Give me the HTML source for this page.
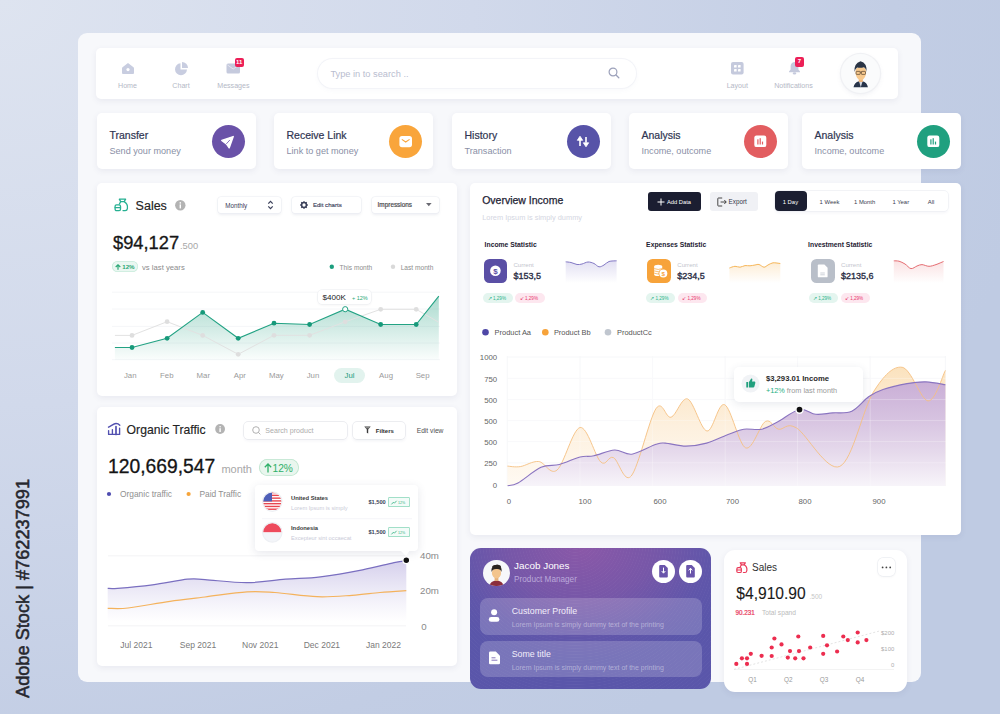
<!DOCTYPE html>
<html><head><meta charset="utf-8"><style>
*{margin:0;padding:0;box-sizing:border-box}
html,body{width:1000px;height:714px;overflow:hidden}
body{font-family:"Liberation Sans",sans-serif;position:relative;background:radial-gradient(ellipse 1050px 900px at 0 0,#dee4f0 0%,#d1d9eb 45%,#c2cde4 85%,#bfcbe3 100%);color:#1f2233}
.a{position:absolute}
.t{position:absolute;white-space:nowrap}
svg.tx{left:0;top:0;overflow:visible;font-family:"Liberation Sans",sans-serif;white-space:pre}
svg.a{overflow:visible}
.card{position:absolute;background:#fff;border-radius:5px;box-shadow:0 2px 6px rgba(60,70,110,.08)}
.badge{position:absolute;background:#ec1f57;color:#fff;border-radius:2px;font-size:6px;font-weight:700;text-align:center;line-height:9px}
.med{-webkit-text-stroke:0.25px currentColor}
</style></head><body>
<div class="a" style="left:11.5px;top:698px;transform-origin:0 0;transform:rotate(-90deg) scaleX(0.957);font-size:19px;line-height:22px;color:#26272e;white-space:nowrap;-webkit-text-stroke:0.55px #26272e">Adobe Stock | #762237991</div>
<div class="a" style="left:78.3px;top:33px;width:842.7px;height:649px;background:#f7f8fb;border-radius:9px"></div>
<div class="card" style="left:96px;top:48px;width:802px;height:51px"></div>
<svg class="a tx" width="1" height="1"><text x="127.50" y="87.90" font-size="7.1" fill="#b4b8c6" text-anchor="middle">Home</text></svg>
<svg class="a tx" width="1" height="1"><text x="181.00" y="87.90" font-size="7.1" fill="#b4b8c6" text-anchor="middle">Chart</text></svg>
<svg class="a tx" width="1" height="1"><text x="233.40" y="87.90" font-size="7.1" fill="#b4b8c6" text-anchor="middle">Messages</text></svg>
<svg class="a tx" width="1" height="1"><text x="737.30" y="87.90" font-size="7.1" fill="#b4b8c6" text-anchor="middle">Layout</text></svg>
<svg class="a tx" width="1" height="1"><text x="793.50" y="87.90" font-size="7.1" fill="#b4b8c6" text-anchor="middle">Notifications</text></svg>
<svg class="a" style="left:121px;top:62px" width="14" height="13" viewBox="0 0 14 13"><path d="M1.5 5.2 L7 1 L12.5 5.2 Q13 5.6 13 6.3 V11 Q13 12 12 12 H2 Q1 12 1 11 V6.3 Q1 5.6 1.5 5.2Z" fill="#c8cde0"/><circle cx="7" cy="7.6" r="1.6" fill="#fff"/></svg>
<svg class="a" style="left:174px;top:61px" width="15" height="15" viewBox="0 0 15 15"><path d="M6.5 2.2 A6 6 0 1 0 13 8.5 H6.5Z" fill="#c8cde0"/><path d="M8 1 A6 6 0 0 1 14 7 H8Z" fill="#c8cde0"/></svg>
<svg class="a" style="left:225.5px;top:63px" width="15" height="11" viewBox="0 0 15 11"><rect x="0.5" y="0.5" width="13.5" height="10" rx="1.5" fill="#c5cadd"/><path d="M1.5 2 L7.2 6 L13 2" stroke="#e6e8f1" stroke-width="0.9" fill="none"/></svg>
<div class="badge" style="left:234.5px;top:58px;width:9.5px;height:9px">11</div>
<svg class="a" style="left:731px;top:62px" width="13" height="13" viewBox="0 0 13 13"><rect x="0" y="0" width="12.6" height="12.6" rx="2" fill="#c5cadd"/><rect x="3" y="3" width="2.6" height="2.6" rx=".4" fill="#fff"/><rect x="7" y="3" width="2.6" height="2.6" rx=".4" fill="#fff"/><rect x="3" y="7" width="2.6" height="2.6" rx=".4" fill="#fff"/><rect x="7" y="7" width="2.6" height="2.6" rx=".4" fill="#fff"/></svg>
<svg class="a" style="left:787.5px;top:61px" width="13" height="14" viewBox="0 0 13 14"><path d="M6.5 1 C3.8 1 2.6 3.2 2.6 5.6 V8.6 L1 10.6 V11.3 H12 V10.6 L10.4 8.6 V5.6 C10.4 3.2 9.2 1 6.5 1Z" fill="#c5cadd"/><ellipse cx="6.5" cy="12.4" rx="1.8" ry="1.1" fill="#c5cadd"/></svg>
<div class="badge" style="left:795px;top:57px;width:9px;height:9.5px;line-height:9.5px">7</div>
<div class="a" style="left:318px;top:59px;width:318px;height:29px;border-radius:15px;background:#fff;box-shadow:0 0 0 1px #f3f4f8,0 2px 5px rgba(120,130,170,.05)"></div>
<svg class="a tx" width="1" height="1"><text x="330.40" y="76.70" font-size="9.25" fill="#b9bdcf">Type in to search ..</text></svg>
<svg class="a" style="left:608px;top:67px" width="12" height="12" viewBox="0 0 12 12"><circle cx="5" cy="5" r="3.9" stroke="#9ca1ba" stroke-width="1.2" fill="none"/><path d="M8 8 L10.8 10.8" stroke="#9ca1ba" stroke-width="1.3" stroke-linecap="round"/></svg>
<div class="a" style="left:840.5px;top:53.5px;width:39px;height:39px;border-radius:50%;background:#fafbfc;box-shadow:0 0 0 1.2px #f0f1f4,0 2px 5px rgba(100,110,150,.10);overflow:hidden">
<svg width="39" height="39" viewBox="0 0 39 39"><g transform="translate(0.5,0.5)"><path d="M12 32.7 Q13 28 17.5 26.8 L19.3 29 L21 26.8 Q25.5 28 26.4 32.7Z" fill="#27344a"/><path d="M17.6 27 L19.3 32.7 L21 27Z" fill="#d5d9e1"/><rect x="17.3" y="23.5" width="4" height="4" fill="#ebb47c"/><path d="M14 17 Q14 12.6 19.3 12.6 Q24.6 12.6 24.6 17 Q24.6 22 22 24.5 Q20.5 25.8 19.3 25.8 Q18.1 25.8 16.6 24.5 Q14 22 14 17Z" fill="#f7c98e"/><path d="M13 17.5 Q12.2 9 19 6.8 Q25.8 8.5 25 17.5 Q24.4 13.4 22.2 12.8 Q19 13.8 15.6 12.9 Q13.7 14 13 17.5Z" fill="#2a3445"/><rect x="14.6" y="16.9" width="4.1" height="3" rx=".6" fill="none" stroke="#4e3d2c" stroke-width=".65"/><rect x="19.9" y="16.9" width="4.1" height="3" rx=".6" fill="none" stroke="#4e3d2c" stroke-width=".65"/><path d="M18.7 17.6 H19.9" stroke="#4e3d2c" stroke-width=".7"/></g></svg></div>
<div class="card" style="left:97px;top:113px;width:159px;height:56px"></div>
<svg class="a tx" width="1" height="1"><text x="109.50" y="138.60" font-size="10.5" fill="#2f3552" stroke="#2f3552" stroke-width="0.2">Transfer</text></svg>
<svg class="a tx" width="1" height="1"><text x="109.50" y="154.30" font-size="9.1" fill="#8a8fa6">Send your money</text></svg>
<div class="a" style="left:211.7px;top:125px;width:33px;height:33px;border-radius:50%;background:#6a52a8"><svg width="33" height="33" viewBox="0 0 33 33"><path d="M9.8 15.4 L21.2 11.6 L17.2 22.8 L14.4 18.9Z" fill="#fff" stroke="#fff" stroke-width="1.5" stroke-linejoin="round"/><path d="M14.6 18.6 L17.6 15.3" stroke="#6a52a8" stroke-width="0.8" stroke-linecap="round"/></svg></div>
<div class="card" style="left:274px;top:113px;width:159px;height:56px"></div>
<svg class="a tx" width="1" height="1"><text x="286.50" y="138.60" font-size="10.5" fill="#2f3552" stroke="#2f3552" stroke-width="0.2">Receive Link</text></svg>
<svg class="a tx" width="1" height="1"><text x="286.50" y="154.30" font-size="9.1" fill="#8a8fa6">Link to get money</text></svg>
<div class="a" style="left:388.7px;top:125px;width:33px;height:33px;border-radius:50%;background:#f9a53b"><svg width="33" height="33" viewBox="0 0 33 33"><rect x="10.4" y="11" width="12.6" height="11.2" rx="2.6" fill="#fff"/><path d="M13.2 14.6 L16.7 17 L20.2 14.6" stroke="#f9a53b" stroke-width="1.1" fill="none" stroke-linecap="round"/></svg></div>
<div class="card" style="left:452px;top:113px;width:159px;height:56px"></div>
<svg class="a tx" width="1" height="1"><text x="464.50" y="138.60" font-size="10.5" fill="#2f3552" stroke="#2f3552" stroke-width="0.2">History</text></svg>
<svg class="a tx" width="1" height="1"><text x="464.50" y="154.30" font-size="9.1" fill="#8a8fa6">Transaction</text></svg>
<div class="a" style="left:566.7px;top:125px;width:33px;height:33px;border-radius:50%;background:#5753a8"><svg width="33" height="33" viewBox="0 0 33 33"><path d="M10.3 15.3 L13 11.2 L15.7 15.3Z" fill="#fff" stroke="#fff" stroke-width=".8" stroke-linejoin="round"/><rect x="12.2" y="15" width="1.6" height="6" fill="#fff"/><path d="M16.3 17.8 L19 21.8 L21.7 17.8Z" fill="#fff" stroke="#fff" stroke-width=".8" stroke-linejoin="round"/><rect x="18.2" y="12" width="1.6" height="5.6" fill="#fff"/></svg></div>
<div class="card" style="left:629px;top:113px;width:159px;height:56px"></div>
<svg class="a tx" width="1" height="1"><text x="641.50" y="138.60" font-size="10.5" fill="#2f3552" stroke="#2f3552" stroke-width="0.2">Analysis</text></svg>
<svg class="a tx" width="1" height="1"><text x="641.50" y="154.30" font-size="9.1" fill="#8a8fa6">Income, outcome</text></svg>
<div class="a" style="left:743.7px;top:125px;width:33px;height:33px;border-radius:50%;background:#e25d60"><svg width="33" height="33" viewBox="0 0 33 33"><rect x="10.3" y="10.5" width="12" height="11.6" rx="2.2" fill="#fff"/><rect x="13.3" y="14.3" width="1.2" height="5.2" fill="#e25d60"/><rect x="15.6" y="13.2" width="1.2" height="6.3" fill="#e25d60"/><rect x="17.9" y="16.6" width="1.2" height="2.9" fill="#e25d60"/></svg></div>
<div class="card" style="left:802px;top:113px;width:159px;height:56px"></div>
<svg class="a tx" width="1" height="1"><text x="814.50" y="138.60" font-size="10.5" fill="#2f3552" stroke="#2f3552" stroke-width="0.2">Analysis</text></svg>
<svg class="a tx" width="1" height="1"><text x="814.50" y="154.30" font-size="9.1" fill="#8a8fa6">Income, outcome</text></svg>
<div class="a" style="left:916.7px;top:125px;width:33px;height:33px;border-radius:50%;background:#20a07f"><svg width="33" height="33" viewBox="0 0 33 33"><rect x="10.3" y="10.5" width="12" height="11.6" rx="2.2" fill="#fff"/><rect x="13.3" y="14.3" width="1.2" height="5.2" fill="#20a07f"/><rect x="15.6" y="13.2" width="1.2" height="6.3" fill="#20a07f"/><rect x="17.9" y="16.6" width="1.2" height="2.9" fill="#20a07f"/></svg></div>
<div class="card" style="left:97px;top:183px;width:360px;height:213px"></div>
<svg class="a" style="left:114px;top:198px" width="15" height="14" viewBox="0 0 15 14"><g fill="none" stroke="#27b092" stroke-width="1.3" stroke-linejoin="round" stroke-linecap="round"><path d="M5.3 1.2 H11.6 L10.2 3.6 H6.7Z"/><path d="M10.2 3.6 C12.6 5 13.8 8 13.4 10.6 Q13.1 12.6 11.2 12.6 H9"/><path d="M6.7 3.6 L5.4 6"/><rect x="1.1" y="6.8" width="5.4" height="5.8" rx="1.4"/><path d="M1.1 9.6 H6.5"/></g></svg>
<svg class="a tx" width="1" height="1"><text x="135.60" y="209.80" font-size="12.5" fill="#232323" stroke="#232323" stroke-width="0.15">Sales</text></svg>
<svg class="a" style="left:174.5px;top:200px" width="11" height="11" viewBox="0 0 11 11"><circle cx="5.3" cy="5.3" r="5.2" fill="#b3b3b3"/><rect x="4.6" y="4.4" width="1.4" height="4" fill="#fff"/><circle cx="5.3" cy="2.9" r=".8" fill="#fff"/></svg>
<div class="a" style="left:217.7px;top:196.7px;width:63.3px;height:16px;background:#fff;border-radius:3px;box-shadow:0 0 0 0.6px #eceef3,0 1.5px 3px rgba(80,90,130,.10)"></div>
<div class="a" style="left:291.5px;top:196.7px;width:69.2px;height:16px;background:#fff;border-radius:3px;box-shadow:0 0 0 0.6px #eceef3,0 1.5px 3px rgba(80,90,130,.10)"></div>
<div class="a" style="left:371.6px;top:196.7px;width:67.6px;height:16px;background:#fff;border-radius:3px;box-shadow:0 0 0 0.6px #eceef3,0 1.5px 3px rgba(80,90,130,.10)"></div>
<svg class="a tx" width="1" height="1"><text x="225.20" y="207.50" font-size="6.3" fill="#3b405a">Monthly</text></svg>
<svg class="a" style="left:267px;top:199.5px" width="7" height="10" viewBox="0 0 7 10"><path d="M1.3 3.6 L3.5 1.4 L5.7 3.6 M1.3 6.4 L3.5 8.6 L5.7 6.4" fill="none" stroke="#3b405a" stroke-width="1.25"/></svg>
<svg class="a" style="left:299.5px;top:201px" width="8" height="8" viewBox="0 0 8 8"><circle cx="4" cy="4" r="2.4" fill="none" stroke="#3b405a" stroke-width="1.5"/><g stroke="#3b405a" stroke-width="1.3"><path d="M4 0.2 V1.6 M4 6.4 V7.8 M0.2 4 H1.6 M6.4 4 H7.8 M1.3 1.3 L2.3 2.3 M5.7 5.7 L6.7 6.7 M1.3 6.7 L2.3 5.7 M5.7 2.3 L6.7 1.3"/></g></svg>
<svg class="a tx" width="1" height="1"><text x="312.90" y="207.10" font-size="6.1" fill="#3b405a" stroke="#3b405a" stroke-width="0.15">Edit charts</text></svg>
<svg class="a tx" width="1" height="1"><text x="377.60" y="207.30" font-size="6.4" fill="#4a4a4e" stroke="#4a4a4e" stroke-width="0.2">Impressions</text></svg>
<svg class="a" style="left:425.5px;top:202.5px" width="6" height="4" viewBox="0 0 6 4"><path d="M0 0 H5.6 L2.8 3.2Z" fill="#6a6a72"/></svg>
<svg class="a tx" width="1" height="1"><text x="180.00" y="249.00" font-size="9.3" fill="#a8a8a8">.500</text></svg>
<svg class="a tx" width="1" height="1"><text x="113.00" y="249.00" font-size="18.3" fill="#161616" stroke="#161616" stroke-width="0.3">$94,127</text></svg>
<div class="a" style="left:112px;top:261px;width:26px;height:11.4px;border-radius:6px;background:#eaf7f1;box-shadow:inset 0 0 0 0.7px #c9ecdc"></div>
<svg class="a tx" width="1" height="1"><text x="122.20" y="269.30" font-size="6.2" fill="#2aa876" font-weight="700">12%</text></svg>
<svg class="a" style="left:115.2px;top:263.6px" width="6" height="6" viewBox="0 0 6 6"><path d="M3 5.8 V0.8 M0.7 3 L3 0.8 L5.3 3" fill="none" stroke="#2aa876" stroke-width="1.2"/></svg>
<svg class="a tx" width="1" height="1"><text x="142.00" y="269.50" font-size="7.7" fill="#8c8c8c">vs last years</text></svg>
<svg class="a" style="left:0;top:0" width="1000" height="714"><circle cx="331.8" cy="266.8" r="2.2" fill="#1c9e7e"/><circle cx="393" cy="266.8" r="2.2" fill="#d9d9d9"/></svg>
<svg class="a tx" width="1" height="1"><text x="339.60" y="270.00" font-size="6.6" fill="#8d8d8d">This month</text></svg>
<svg class="a tx" width="1" height="1"><text x="400.70" y="270.00" font-size="6.6" fill="#8d8d8d">Last month</text></svg>
<svg class="a" style="left:0;top:0" width="1000" height="714" viewBox="0 0 1000 714"><defs><linearGradient id="sg" x1="0" y1="0" x2="0" y2="1"><stop offset="0" stop-color="#1f9e7e" stop-opacity=".38"/><stop offset="1" stop-color="#1f9e7e" stop-opacity="0.02"/></linearGradient></defs><path d="M112 292.2 H440" stroke="#f3f4f6" stroke-width="0.8"/><path d="M112 309 H440" stroke="#f3f4f6" stroke-width="0.8"/><path d="M112 326.4 H440" stroke="#f3f4f6" stroke-width="0.8"/><path d="M112 343 H440" stroke="#f3f4f6" stroke-width="0.8"/><path d="M112 359.7 H440" stroke="#f3f4f6" stroke-width="0.8"/><path d="M114.9,360 L114.9,347.5 132,347.5 167.1,338.3 202.7,312.4 238.2,338.3 274,323.2 309.6,324.5 345.2,309.2 380.7,324.5 416.2,324.5 438.8,296.2 L438.8,360Z" fill="url(#sg)"/><polyline points="114.9,335.4 132,335.4 167.1,321.7 202.7,335.4 238.2,354.3 274,335.3 309.6,335.3 345.2,321.8 380.7,309.3 416.2,309.3 438.8,322.3" fill="none" stroke="#e2e2e2" stroke-width="1"/><circle cx="132" cy="335.4" r="2.4" fill="#dedede"/><circle cx="167.1" cy="321.7" r="2.4" fill="#dedede"/><circle cx="202.7" cy="335.4" r="2.4" fill="#dedede"/><circle cx="238.2" cy="354.3" r="2.4" fill="#dedede"/><circle cx="274" cy="335.3" r="2.4" fill="#dedede"/><circle cx="309.6" cy="335.3" r="2.4" fill="#dedede"/><circle cx="345.2" cy="321.8" r="2.4" fill="#dedede"/><circle cx="380.7" cy="309.3" r="2.4" fill="#dedede"/><circle cx="416.2" cy="309.3" r="2.4" fill="#dedede"/><polyline points="114.9,347.5 132,347.5 167.1,338.3 202.7,312.4 238.2,338.3 274,323.2 309.6,324.5 345.2,309.2 380.7,324.5 416.2,324.5 438.8,296.2" fill="none" stroke="#22a283" stroke-width="1.1"/><circle cx="132" cy="347.5" r="2.4" fill="#17997a"/><circle cx="167.1" cy="338.3" r="2.4" fill="#17997a"/><circle cx="202.7" cy="312.4" r="2.4" fill="#17997a"/><circle cx="238.2" cy="338.3" r="2.4" fill="#17997a"/><circle cx="274" cy="323.2" r="2.4" fill="#17997a"/><circle cx="309.6" cy="324.5" r="2.4" fill="#17997a"/><circle cx="345.2" cy="309.2" r="2.6" fill="#fff" stroke="#22a283" stroke-width="1"/><circle cx="380.7" cy="324.5" r="2.4" fill="#17997a"/><circle cx="416.2" cy="324.5" r="2.4" fill="#17997a"/></svg>
<div class="a" style="left:318.2px;top:290.4px;width:53px;height:13.9px;background:#fff;border-radius:4px;box-shadow:0 0 0 0.6px #eceef2,0 1px 3px rgba(0,0,0,.06)"></div>
<svg class="a tx" width="1" height="1"><text x="322.60" y="300.20" font-size="8.1" fill="#222">$400K</text></svg>
<svg class="a tx" width="1" height="1"><text x="352.00" y="299.60" font-size="5.5" fill="#2aa876">+ 12%</text></svg>
<div class="a" style="left:334px;top:368.2px;width:31.4px;height:14.8px;border-radius:8px;background:#e2f3ee"></div>
<svg class="a tx" width="1" height="1"><text x="130.20" y="378.20" font-size="7.8" fill="#9a9a9a" text-anchor="middle">Jan</text></svg>
<svg class="a tx" width="1" height="1"><text x="166.75" y="378.20" font-size="7.8" fill="#9a9a9a" text-anchor="middle">Feb</text></svg>
<svg class="a tx" width="1" height="1"><text x="203.30" y="378.20" font-size="7.8" fill="#9a9a9a" text-anchor="middle">Mar</text></svg>
<svg class="a tx" width="1" height="1"><text x="239.85" y="378.20" font-size="7.8" fill="#9a9a9a" text-anchor="middle">Apr</text></svg>
<svg class="a tx" width="1" height="1"><text x="276.40" y="378.20" font-size="7.8" fill="#9a9a9a" text-anchor="middle">May</text></svg>
<svg class="a tx" width="1" height="1"><text x="312.95" y="378.20" font-size="7.8" fill="#9a9a9a" text-anchor="middle">Jun</text></svg>
<svg class="a tx" width="1" height="1"><text x="349.50" y="378.20" font-size="7.8" fill="#1f9c7c" text-anchor="middle">Jul</text></svg>
<svg class="a tx" width="1" height="1"><text x="386.05" y="378.20" font-size="7.8" fill="#9a9a9a" text-anchor="middle">Aug</text></svg>
<svg class="a tx" width="1" height="1"><text x="422.60" y="378.20" font-size="7.8" fill="#9a9a9a" text-anchor="middle">Sep</text></svg>
<div class="card" style="left:97px;top:407px;width:360px;height:259px"></div>
<svg class="a" style="left:0;top:0" width="1000" height="714"><g fill="none" stroke="#5250b0" stroke-width="1.35" stroke-linecap="round" stroke-linejoin="round"><path d="M108.5 427.2 C111 426 114 423.5 116 423.5 C117.5 423.5 119 424.3 119.8 425.2"/><path d="M108.6 430.6 V434.4 H119.6 V428.2 M112.4 429.6 V434.4"/><path d="M116 426.7 V434.4" stroke-width="1.7"/></g></svg>
<svg class="a tx" width="1" height="1"><text x="126.60" y="434.20" font-size="12.2" fill="#232323" stroke="#232323" stroke-width="0.15">Organic Traffic</text></svg>
<svg class="a" style="left:215px;top:424.4px" width="11" height="11" viewBox="0 0 11 11"><circle cx="5.1" cy="5" r="4.9" fill="#b3b3b3"/><rect x="4.4" y="4.2" width="1.4" height="3.8" fill="#fff"/><circle cx="5.1" cy="2.8" r=".8" fill="#fff"/></svg>
<div class="a" style="left:244px;top:421.6px;width:102.7px;height:17.6px;background:#fff;border-radius:4px;box-shadow:0 0 0 0.7px #e6e7ec,0 1.5px 3px rgba(80,90,130,.06)"></div>
<svg class="a" style="left:251.5px;top:426px" width="9" height="9" viewBox="0 0 9 9"><circle cx="4" cy="4" r="3.3" fill="none" stroke="#a8a8a8" stroke-width="0.9"/><path d="M6.4 6.4 L8.4 8.4" stroke="#a8a8a8" stroke-width="0.9"/></svg>
<svg class="a tx" width="1" height="1"><text x="265.30" y="433.30" font-size="7.1" fill="#acacac">Search product</text></svg>
<div class="a" style="left:353.3px;top:421.6px;width:51.3px;height:17.6px;background:#fff;border-radius:4px;box-shadow:0 0 0 0.7px #e6e7ec,0 1.5px 3px rgba(80,90,130,.08)"></div>
<svg class="a" style="left:364px;top:426.3px" width="7" height="8" viewBox="0 0 7 8"><path d="M0.3 0.5 H6.7 L4.2 3.6 V7.6 L2.8 6.8 V3.6Z" fill="#3a3a3a"/><path d="M1.6 1.8 H5.4" stroke="#fff" stroke-width=".6"/></svg>
<svg class="a tx" width="1" height="1"><text x="375.80" y="433.00" font-size="6" fill="#2e2e2e" font-weight="700">Filters</text></svg>
<svg class="a tx" width="1" height="1"><text x="416.70" y="433.10" font-size="6.7" fill="#4f4f4f">Edit view</text></svg>
<svg class="a tx" width="1" height="1"><text x="108.00" y="473.20" font-size="19.3" fill="#141414" stroke="#141414" stroke-width="0.3">120,669,547</text></svg>
<svg class="a tx" width="1" height="1"><text x="221.40" y="473.20" font-size="11" fill="#a7a7a7">month</text></svg>
<div class="a" style="left:259px;top:459px;width:40px;height:17px;border-radius:9px;background:#e9f6ee;box-shadow:inset 0 0 0 0.8px #bfe5cf"></div>
<svg class="a" style="left:263.5px;top:462.8px" width="8" height="10" viewBox="0 0 8 10"><path d="M4 9.5 V1 M0.8 4.2 L4 1 L7.2 4.2" fill="none" stroke="#2fb069" stroke-width="1.3"/></svg>
<svg class="a tx" width="1" height="1"><text x="272.50" y="472.20" font-size="10.2" fill="#2fb069">12%</text></svg>
<svg class="a" style="left:0;top:0" width="1000" height="714"><circle cx="109" cy="494" r="2.1" fill="#4e4cb0"/><circle cx="188.6" cy="494" r="2.1" fill="#f6a43a"/></svg>
<svg class="a tx" width="1" height="1"><text x="120.00" y="497.00" font-size="8.4" fill="#8f8f8f">Organic traffic</text></svg>
<svg class="a tx" width="1" height="1"><text x="199.40" y="497.00" font-size="8.4" fill="#8f8f8f">Paid Traffic</text></svg>
<svg class="a" style="left:0;top:0" width="1000" height="714" viewBox="0 0 1000 714"><defs><linearGradient id="og" x1="0" y1="0" x2="0" y2="1"><stop offset="0" stop-color="#8f80cc" stop-opacity=".38"/><stop offset="1" stop-color="#b0a6dc" stop-opacity="0.0"/></linearGradient></defs><path d="M108 555.8 H406" stroke="#f0f0f2" stroke-width="0.8"/><path d="M108 625.8 H406" stroke="#f0f0f2" stroke-width="0.8"/><path d="M107.7 588.3 C109.3 588.3 110.0 588.9 117.5 588.3 C125.0 587.7 140.8 586.3 152.5 584.8 C164.2 583.3 178.8 580.1 187.5 579.2 C196.2 578.3 195.1 579.0 205.0 579.6 C214.9 580.2 233.6 582.8 247.0 582.7 C260.4 582.6 273.2 580.2 285.5 579.2 C297.8 578.2 307.7 578.4 320.5 576.8 C333.3 575.2 350.2 572.2 362.5 569.8 C374.8 567.4 386.7 564.1 394.0 562.6 C401.3 561.1 404.2 560.9 406.3 560.6 L406.3 622 L107.7 622Z" fill="url(#og)"/><path d="M107.7 588.3 C109.3 588.3 110.0 588.9 117.5 588.3 C125.0 587.7 140.8 586.3 152.5 584.8 C164.2 583.3 178.8 580.1 187.5 579.2 C196.2 578.3 195.1 579.0 205.0 579.6 C214.9 580.2 233.6 582.8 247.0 582.7 C260.4 582.6 273.2 580.2 285.5 579.2 C297.8 578.2 307.7 578.4 320.5 576.8 C333.3 575.2 350.2 572.2 362.5 569.8 C374.8 567.4 386.7 564.1 394.0 562.6 C401.3 561.1 404.2 560.9 406.3 560.6" fill="none" stroke="#7a6fc0" stroke-width="1.2"/><path d="M107.7 608.3 C111.1 608.2 117.6 609.2 128.0 608.0 C138.4 606.8 157.2 603.1 170.0 601.3 C182.8 599.5 192.2 598.6 205.0 597.0 C217.8 595.4 235.3 592.5 247.0 591.8 C258.7 591.0 263.3 591.7 275.0 592.5 C286.7 593.3 304.2 596.2 317.0 596.7 C329.8 597.2 341.5 596.0 352.0 595.3 C362.5 594.6 370.9 593.3 380.0 592.5 C389.1 591.7 401.9 590.9 406.3 590.6" fill="none" stroke="#f4b25c" stroke-width="1.2"/><circle cx="406.3" cy="560.3" r="3.4" fill="#111" stroke="#fff" stroke-width="1.3"/></svg>
<svg class="a tx" width="1" height="1"><text x="420.00" y="559.00" font-size="9.7" fill="#8a8a8a">40m</text></svg>
<svg class="a tx" width="1" height="1"><text x="420.00" y="594.20" font-size="9.7" fill="#8a8a8a">20m</text></svg>
<svg class="a tx" width="1" height="1"><text x="421.30" y="629.70" font-size="9.7" fill="#8a8a8a">0</text></svg>
<svg class="a tx" width="1" height="1"><text x="136.40" y="648.20" font-size="8.5" fill="#7a7a7a" text-anchor="middle">Jul 2021</text></svg>
<svg class="a tx" width="1" height="1"><text x="198.00" y="648.20" font-size="8.5" fill="#7a7a7a" text-anchor="middle">Sep 2021</text></svg>
<svg class="a tx" width="1" height="1"><text x="260.20" y="648.20" font-size="8.5" fill="#7a7a7a" text-anchor="middle">Nov 2021</text></svg>
<svg class="a tx" width="1" height="1"><text x="321.90" y="648.20" font-size="8.5" fill="#7a7a7a" text-anchor="middle">Dec 2021</text></svg>
<svg class="a tx" width="1" height="1"><text x="383.50" y="648.20" font-size="8.5" fill="#7a7a7a" text-anchor="middle">Jan 2022</text></svg>
<div class="a" style="left:254.5px;top:485.4px;width:163.8px;height:65.2px;background:#fff;border-radius:4px;box-shadow:0 2px 8px rgba(60,70,110,.13)"></div>
<svg class="a" style="left:0;top:0" width="1000" height="714"><path d="M400 550 L406 556 L410 550Z" fill="#fff"/><path d="M262 518.7 H412" stroke="#f2f3f6" stroke-width="0.8"/></svg>
<svg class="a" style="left:0;top:0" width="1000" height="714" viewBox="0 0 1000 714"><defs><clipPath id="usc"><circle cx="272.3" cy="501.6" r="9.7"/></clipPath><clipPath id="idc"><circle cx="272.3" cy="532.4" r="9.7"/></clipPath></defs><g clip-path="url(#usc)"><rect x="262" y="491" width="21" height="21" fill="#fff"/><rect x="262" y="491.90" width="21" height="1.39" fill="#e8464f"/><rect x="262" y="494.67" width="21" height="1.39" fill="#e8464f"/><rect x="262" y="497.44" width="21" height="1.39" fill="#e8464f"/><rect x="262" y="500.21" width="21" height="1.39" fill="#e8464f"/><rect x="262" y="502.98" width="21" height="1.39" fill="#e8464f"/><rect x="262" y="505.75" width="21" height="1.39" fill="#e8464f"/><rect x="262" y="508.52" width="21" height="1.39" fill="#e8464f"/><rect x="262" y="491" width="10" height="10.4" fill="#4f5fb8"/></g><circle cx="272.3" cy="501.6" r="9.7" fill="none" stroke="#eef0f4" stroke-width="1.2"/><g clip-path="url(#idc)"><rect x="262" y="522" width="21" height="10.4" fill="#ee4b5d"/><rect x="262" y="532.4" width="21" height="10.4" fill="#f3f5f9"/></g><circle cx="272.3" cy="532.4" r="9.7" fill="none" stroke="#eef0f4" stroke-width="1.2"/></svg>
<svg class="a tx" width="1" height="1"><text x="291.00" y="499.80" font-size="5.8" fill="#3a3a3a" font-weight="700">United States</text></svg>
<svg class="a tx" width="1" height="1"><text x="291.00" y="510.00" font-size="5.7" fill="#cacbd8">Lorem Ipsum is simply</text></svg>
<svg class="a tx" width="1" height="1"><text x="368.40" y="504.00" font-size="5.7" fill="#3a3f5a" font-weight="700">$1,500</text></svg>
<svg class="a tx" width="1" height="1"><text x="291.00" y="529.90" font-size="5.8" fill="#3a3a3a" font-weight="700">Indonesia</text></svg>
<svg class="a tx" width="1" height="1"><text x="291.00" y="539.70" font-size="5.7" fill="#cacbd8">Excepteur sint occaecat</text></svg>
<svg class="a tx" width="1" height="1"><text x="368.40" y="533.90" font-size="5.7" fill="#3a3f5a" font-weight="700">$1,500</text></svg>
<div class="a" style="left:387.7px;top:497px;width:22.5px;height:10.3px;border-radius:1.5px;background:#f3fbf8;box-shadow:inset 0 0 0 0.7px #86d6b8"></div>
<svg class="a" style="left:391px;top:500px" width="6" height="5" viewBox="0 0 6 5"><path d="M0.4 4.4 L2.4 2.2 L3.4 3.2 L5.6 0.8" fill="none" stroke="#2fb07f" stroke-width=".8"/></svg>
<svg class="a tx" width="1" height="1"><text x="398.00" y="504.00" font-size="3.6" fill="#2fb07f">12%</text></svg>
<div class="a" style="left:387.7px;top:527.2px;width:22.5px;height:10.3px;border-radius:1.5px;background:#f3fbf8;box-shadow:inset 0 0 0 0.7px #86d6b8"></div>
<svg class="a" style="left:391px;top:530.2px" width="6" height="5" viewBox="0 0 6 5"><path d="M0.4 4.4 L2.4 2.2 L3.4 3.2 L5.6 0.8" fill="none" stroke="#2fb07f" stroke-width=".8"/></svg>
<svg class="a tx" width="1" height="1"><text x="398.00" y="534.20" font-size="3.6" fill="#2fb07f">12%</text></svg>
<div class="card" style="left:470px;top:183px;width:491px;height:352px"></div>
<svg class="a tx" width="1" height="1"><text x="482.20" y="204.20" font-size="10.5" fill="#1e2233" stroke="#1e2233" stroke-width="0.25">Overview Income</text></svg>
<svg class="a tx" width="1" height="1"><text x="482.20" y="219.60" font-size="7.4" fill="#d4d6e2">Lorem Ipsum is simply dummy</text></svg>
<div class="a" style="left:648.3px;top:191.7px;width:53px;height:19px;border-radius:3px;background:#1b1e31"></div>
<svg class="a" style="left:656.5px;top:197.5px" width="8" height="8" viewBox="0 0 8 8"><path d="M4 0.5 V7.5 M0.5 4 H7.5" stroke="#fff" stroke-width="1"/></svg>
<svg class="a tx" width="1" height="1"><text x="667.00" y="204.20" font-size="5.75" fill="#fff">Add Data</text></svg>
<div class="a" style="left:710.4px;top:191.5px;width:47.3px;height:19.5px;border-radius:3px;background:#f0f1f5"></div>
<svg class="a" style="left:717.2px;top:196.5px" width="10" height="10" viewBox="0 0 10 10"><path d="M5.2 1 H1.4 Q0.8 1 0.8 1.6 V8.4 Q0.8 9 1.4 9 H5.2" fill="none" stroke="#333" stroke-width=".9"/><path d="M3.6 5 H9.2 M7.3 3 L9.2 5 L7.3 7" fill="none" stroke="#333" stroke-width=".9"/></svg>
<svg class="a tx" width="1" height="1"><text x="728.60" y="203.60" font-size="6.3" fill="#33364a">Export</text></svg>
<div class="a" style="left:775.4px;top:190.7px;width:172.9px;height:20.8px;border-radius:4px;background:#fff;box-shadow:0 0 0 0.7px #eef0f4,0 1.5px 3px rgba(80,90,130,.06)"></div>
<div class="a" style="left:775.4px;top:190.7px;width:31.2px;height:20.8px;border-radius:4px;background:#1b1e31"></div>
<svg class="a tx" width="1" height="1"><text x="782.70" y="203.60" font-size="5.9" fill="#fff">1 Day</text></svg>
<svg class="a tx" width="1" height="1"><text x="819.60" y="203.60" font-size="5.9" fill="#3a3d50">1 Week</text></svg>
<svg class="a tx" width="1" height="1"><text x="854.00" y="203.60" font-size="5.9" fill="#3a3d50">1 Month</text></svg>
<svg class="a tx" width="1" height="1"><text x="892.40" y="203.60" font-size="5.9" fill="#3a3d50">1 Year</text></svg>
<svg class="a tx" width="1" height="1"><text x="927.80" y="203.60" font-size="5.9" fill="#3a3d50">All</text></svg>
<svg class="a tx" width="1" height="1"><text x="484.60" y="247.20" font-size="6.8" fill="#1e2233" font-weight="700">Income Statistic</text></svg>
<div class="a" style="left:483.9px;top:259px;width:23.5px;height:24px;border-radius:5.5px;background:#5a4fa5"></div>
<svg class="a tx" width="1" height="1"><text x="513.40" y="267.10" font-size="6.1" fill="#c3c5cd">Current</text></svg>
<svg class="a tx" width="1" height="1"><text x="513.40" y="279.30" font-size="9" fill="#2a2e45" stroke="#2a2e45" stroke-width="0.35">$153,5</text></svg>
<div class="a" style="left:483.4px;top:293.2px;width:29.3px;height:9.6px;border-radius:5px;background:#e4f5ef"></div>
<svg class="a tx" width="1" height="1"><text x="487.70" y="300.20" font-size="4.6" fill="#2bb38a">&#8599; 1,29%</text></svg>
<div class="a" style="left:515.3px;top:293.2px;width:29.3px;height:9.6px;border-radius:5px;background:#fde7ef"></div>
<svg class="a tx" width="1" height="1"><text x="519.70" y="300.20" font-size="4.6" fill="#e8386e">&#8601; 1,29%</text></svg>
<svg class="a tx" width="1" height="1"><text x="646.10" y="247.20" font-size="6.8" fill="#1e2233" font-weight="700">Expenses Statistic</text></svg>
<div class="a" style="left:647.2px;top:259px;width:23.5px;height:24px;border-radius:5.5px;background:#f7a33a"></div>
<svg class="a tx" width="1" height="1"><text x="677.30" y="267.10" font-size="6.1" fill="#c3c5cd">Current</text></svg>
<svg class="a tx" width="1" height="1"><text x="677.30" y="279.30" font-size="9" fill="#2a2e45" stroke="#2a2e45" stroke-width="0.35">$234,5</text></svg>
<div class="a" style="left:645.9px;top:293.2px;width:29.3px;height:9.6px;border-radius:5px;background:#e4f5ef"></div>
<svg class="a tx" width="1" height="1"><text x="650.20" y="300.20" font-size="4.6" fill="#2bb38a">&#8599; 1,29%</text></svg>
<div class="a" style="left:677.8px;top:293.2px;width:29.3px;height:9.6px;border-radius:5px;background:#fde7ef"></div>
<svg class="a tx" width="1" height="1"><text x="682.20" y="300.20" font-size="4.6" fill="#e8386e">&#8601; 1,29%</text></svg>
<svg class="a tx" width="1" height="1"><text x="808.10" y="247.20" font-size="6.8" fill="#1e2233" font-weight="700">Investment Statistic</text></svg>
<div class="a" style="left:811px;top:259px;width:23.5px;height:24px;border-radius:5.5px;background:#b9bfc9"></div>
<svg class="a tx" width="1" height="1"><text x="841.00" y="267.10" font-size="6.1" fill="#c3c5cd">Current</text></svg>
<svg class="a tx" width="1" height="1"><text x="841.00" y="279.30" font-size="9" fill="#2a2e45" stroke="#2a2e45" stroke-width="0.35">$2135,6</text></svg>
<div class="a" style="left:808.6px;top:293.2px;width:29.3px;height:9.6px;border-radius:5px;background:#e4f5ef"></div>
<svg class="a tx" width="1" height="1"><text x="812.90" y="300.20" font-size="4.6" fill="#2bb38a">&#8599; 1,29%</text></svg>
<div class="a" style="left:840.5px;top:293.2px;width:29.3px;height:9.6px;border-radius:5px;background:#fde7ef"></div>
<svg class="a tx" width="1" height="1"><text x="844.90" y="300.20" font-size="4.6" fill="#e8386e">&#8601; 1,29%</text></svg>
<svg class="a" style="left:0;top:0" width="1000" height="714"><circle cx="495.4" cy="270.7" r="5.3" fill="#fff"/><text x="495.4" y="273.6" font-size="8" font-weight="700" fill="#5a4fa5" text-anchor="middle" font-family="Liberation Sans">$</text><g fill="#fff"><ellipse cx="658.2" cy="266.4" rx="4" ry="1.6"/><rect x="654.2" y="266.4" width="8" height="8"/><ellipse cx="658.2" cy="274.4" rx="4" ry="1.6"/></g><g stroke="#f7a33a" stroke-width=".7" fill="none"><path d="M654.2 268.6 Q658.2 270.3 662.2 268.6 M654.2 270.9 Q658.2 272.6 662.2 270.9 M654.2 273.2 Q658.2 274.9 662.2 273.2"/></g><circle cx="663.3" cy="273.6" r="4.8" fill="#f7a33a"/><circle cx="663.3" cy="273.6" r="4" fill="#fff"/><text x="663.3" y="275.9" font-size="6.2" font-weight="700" fill="#f7a33a" text-anchor="middle" font-family="Liberation Sans">$</text><path d="M817.8 265.5 Q817.8 264.6 818.7 264.6 H824.4 L827.6 267.8 V276.4 Q827.6 277.3 826.7 277.3 H818.7 Q817.8 277.3 817.8 276.4Z" fill="#fff"/><path d="M820.3 273 H824.8 M820.3 274.8 H824.8" stroke="#b9bfc9" stroke-width=".7"/></svg>
<svg class="a" style="left:0;top:0" width="1000" height="714" viewBox="0 0 1000 714"><defs><linearGradient id="sp0" x1="0" y1="0" x2="0" y2="1"><stop offset="0" stop-color="#8a80cc" stop-opacity=".25"/><stop offset="1" stop-color="#8a80cc" stop-opacity="0"/></linearGradient><linearGradient id="sp1" x1="0" y1="0" x2="0" y2="1"><stop offset="0" stop-color="#f7b85c" stop-opacity=".25"/><stop offset="1" stop-color="#f7b85c" stop-opacity="0"/></linearGradient><linearGradient id="sp2" x1="0" y1="0" x2="0" y2="1"><stop offset="0" stop-color="#ec8a8e" stop-opacity=".25"/><stop offset="1" stop-color="#ec8a8e" stop-opacity="0"/></linearGradient></defs><path d="M565.7 261.8 C566.6 261.9 569.1 262.1 571.0 262.5 C572.9 262.9 575.2 264.2 577.0 264.5 C578.8 264.8 580.2 264.4 582.0 264.0 C583.8 263.6 586.0 262.1 588.0 262.0 C590.0 261.9 592.2 262.7 594.0 263.5 C595.8 264.3 597.3 266.6 599.0 266.8 C600.7 267.1 602.3 265.9 604.0 265.0 C605.7 264.1 606.9 262.2 609.0 261.5 C611.1 260.8 615.3 260.9 616.6 260.8 L616.6 283 L565.7 283Z" fill="url(#sp0)"/><path d="M565.7 261.8 C566.6 261.9 569.1 262.1 571.0 262.5 C572.9 262.9 575.2 264.2 577.0 264.5 C578.8 264.8 580.2 264.4 582.0 264.0 C583.8 263.6 586.0 262.1 588.0 262.0 C590.0 261.9 592.2 262.7 594.0 263.5 C595.8 264.3 597.3 266.6 599.0 266.8 C600.7 267.1 602.3 265.9 604.0 265.0 C605.7 264.1 606.9 262.2 609.0 261.5 C611.1 260.8 615.3 260.9 616.6 260.8" fill="none" stroke="#8278c4" stroke-width="1"/><path d="M729.4 268.0 C730.3 267.7 733.2 266.4 735.0 266.3 C736.8 266.2 738.3 267.3 740.0 267.2 C741.7 267.1 743.3 265.8 745.0 265.6 C746.7 265.4 748.3 265.9 750.0 265.8 C751.7 265.7 753.5 265.2 755.0 265.0 C756.5 264.8 757.5 264.1 759.0 264.5 C760.5 264.9 762.5 267.1 764.0 267.2 C765.5 267.3 766.5 265.7 768.0 265.0 C769.5 264.3 771.0 263.1 773.0 262.8 C775.0 262.6 779.1 263.4 780.3 263.5 L780.3 283 L729.4 283Z" fill="url(#sp1)"/><path d="M729.4 268.0 C730.3 267.7 733.2 266.4 735.0 266.3 C736.8 266.2 738.3 267.3 740.0 267.2 C741.7 267.1 743.3 265.8 745.0 265.6 C746.7 265.4 748.3 265.9 750.0 265.8 C751.7 265.7 753.5 265.2 755.0 265.0 C756.5 264.8 757.5 264.1 759.0 264.5 C760.5 264.9 762.5 267.1 764.0 267.2 C765.5 267.3 766.5 265.7 768.0 265.0 C769.5 264.3 771.0 263.1 773.0 262.8 C775.0 262.6 779.1 263.4 780.3 263.5" fill="none" stroke="#f6b659" stroke-width="1"/><path d="M893.8 260.8 C894.7 260.9 897.1 260.7 899.0 261.2 C900.9 261.7 903.0 262.8 905.0 264.0 C907.0 265.2 909.0 268.3 911.0 268.6 C913.0 268.9 915.2 266.7 917.0 266.0 C918.8 265.3 920.0 264.6 922.0 264.6 C924.0 264.7 926.7 266.3 929.0 266.3 C931.3 266.3 933.6 265.4 936.0 264.6 C938.4 263.8 942.2 262.0 943.5 261.5 L943.5 283 L893.8 283Z" fill="url(#sp2)"/><path d="M893.8 260.8 C894.7 260.9 897.1 260.7 899.0 261.2 C900.9 261.7 903.0 262.8 905.0 264.0 C907.0 265.2 909.0 268.3 911.0 268.6 C913.0 268.9 915.2 266.7 917.0 266.0 C918.8 265.3 920.0 264.6 922.0 264.6 C924.0 264.7 926.7 266.3 929.0 266.3 C931.3 266.3 933.6 265.4 936.0 264.6 C938.4 263.8 942.2 262.0 943.5 261.5" fill="none" stroke="#e56d72" stroke-width="1"/></svg>
<svg class="a" style="left:0;top:0" width="1000" height="714"><circle cx="485.5" cy="332.3" r="3.3" fill="#4e47a6"/><circle cx="545.3" cy="332.3" r="3.3" fill="#f7a33a"/><circle cx="608" cy="332.3" r="3.3" fill="#c0c6cf"/></svg>
<svg class="a tx" width="1" height="1"><text x="494.60" y="335.00" font-size="7.45" fill="#555">Product Aa</text></svg>
<svg class="a tx" width="1" height="1"><text x="553.90" y="335.00" font-size="7.45" fill="#555">Product Bb</text></svg>
<svg class="a tx" width="1" height="1"><text x="617.00" y="335.00" font-size="7.45" fill="#555">ProductCc</text></svg>
<svg class="a" style="left:0;top:0" width="1000" height="714" viewBox="0 0 1000 714"><defs><linearGradient id="pg" gradientUnits="userSpaceOnUse" x1="0" y1="380" x2="0" y2="487"><stop offset="0" stop-color="#c9aed6"/><stop offset=".35" stop-color="#d6c2e0"/><stop offset=".68" stop-color="#e6daec"/><stop offset="1" stop-color="#f8f5fa"/></linearGradient><linearGradient id="yg" gradientUnits="userSpaceOnUse" x1="0" y1="365" x2="0" y2="487"><stop offset="0" stop-color="#fbe2bd"/><stop offset=".5" stop-color="#fdf0de"/><stop offset="1" stop-color="#fffaf3"/></linearGradient></defs><path d="M507 357 H946" stroke="#f4f5f8" stroke-width="0.8"/><path d="M507 378.4 H946" stroke="#f4f5f8" stroke-width="0.8"/><path d="M507 399.6 H946" stroke="#f4f5f8" stroke-width="0.8"/><path d="M507 420.6 H946" stroke="#f4f5f8" stroke-width="0.8"/><path d="M507 441.6 H946" stroke="#f4f5f8" stroke-width="0.8"/><path d="M507 462.8 H946" stroke="#f4f5f8" stroke-width="0.8"/><path d="M507 485.2 H946" stroke="#f4f5f8" stroke-width="0.8"/><path d="M507.3 356 V486" stroke="#f4f5f8" stroke-width="0.8"/><path d="M580 356 V486" stroke="#f4f5f8" stroke-width="0.8"/><path d="M652.6 356 V486" stroke="#f4f5f8" stroke-width="0.8"/><path d="M725.2 356 V486" stroke="#f4f5f8" stroke-width="0.8"/><path d="M797.6 356 V486" stroke="#f4f5f8" stroke-width="0.8"/><path d="M870.2 356 V486" stroke="#f4f5f8" stroke-width="0.8"/><path d="M945.4 356 V486" stroke="#f4f5f8" stroke-width="0.8"/><path d="M507.4 466.1 C509.5 466.2 515.1 467.4 520.3 466.6 C525.5 465.8 532.6 460.9 538.7 461.5 C544.8 462.1 550.2 475.7 557.1 470.0 C564.0 464.3 572.8 428.8 580.1 427.5 C587.4 426.2 595.2 457.0 600.8 462.0 C606.3 467.0 608.3 455.3 613.4 457.6 C618.5 459.9 624.1 484.2 631.2 476.0 C638.3 467.8 649.4 418.4 656.0 408.6 C662.6 398.8 665.7 418.8 671.0 417.2 C676.3 415.6 681.7 396.7 687.7 399.0 C693.7 401.3 700.9 430.1 707.0 431.0 C713.1 431.9 718.1 401.9 724.6 404.7 C731.1 407.5 738.9 445.1 745.7 447.9 C752.5 450.7 759.9 424.6 765.4 421.5 C770.9 418.4 773.4 428.1 778.6 429.2 C783.8 430.3 786.4 421.8 796.6 428.0 C806.8 434.2 827.0 472.4 839.8 466.4 C852.6 460.4 863.0 408.5 873.4 392.0 C883.8 375.5 893.1 365.8 902.2 367.3 C911.3 368.8 920.9 400.4 928.1 400.9 C935.3 401.4 942.5 375.5 945.4 370.4 L945.4 486 L507.4 486Z" fill="url(#yg)"/><path d="M507.6 485.7 C509.3 485.2 512.4 486.1 518.0 483.0 C523.6 479.9 534.1 470.4 541.0 467.3 C547.9 464.2 552.9 466.2 559.4 464.5 C565.9 462.8 574.4 458.4 580.1 457.0 C585.9 455.6 588.1 457.0 593.9 455.8 C599.6 454.6 608.3 450.3 614.6 450.0 C620.9 449.7 624.9 455.1 631.8 454.2 C638.7 453.2 650.4 446.1 656.0 444.3 C661.6 442.5 660.2 442.8 665.2 443.1 C670.2 443.4 679.0 446.1 685.9 446.1 C692.8 446.1 699.4 445.1 706.6 443.1 C713.9 441.1 723.2 436.3 729.4 434.0 C735.6 431.7 738.4 430.0 743.8 429.2 C749.2 428.4 756.2 430.4 761.8 429.2 C767.4 428.0 771.1 425.3 777.4 422.0 C783.7 418.7 793.1 410.8 799.5 409.5 C805.9 408.2 810.3 413.7 815.8 414.3 C821.3 414.9 826.6 413.4 832.6 412.9 C838.6 412.4 845.8 413.9 851.8 411.2 C857.8 408.5 863.4 400.4 868.6 396.8 C873.8 393.2 876.6 391.8 883.0 389.6 C889.4 387.4 899.8 384.9 907.0 383.6 C914.2 382.3 919.8 381.7 926.2 381.9 C932.6 382.1 942.2 384.3 945.4 384.8 L945.4 486 L507.6 486Z" fill="url(#pg)"/><path d="M507 378.4 H946" stroke="#fff" stroke-opacity=".35" stroke-width="0.8"/><path d="M507 399.6 H946" stroke="#fff" stroke-opacity=".35" stroke-width="0.8"/><path d="M507 420.6 H946" stroke="#fff" stroke-opacity=".35" stroke-width="0.8"/><path d="M507 441.6 H946" stroke="#fff" stroke-opacity=".35" stroke-width="0.8"/><path d="M507 462.8 H946" stroke="#fff" stroke-opacity=".35" stroke-width="0.8"/><path d="M580 356 V486" stroke="#fff" stroke-opacity=".35" stroke-width="0.8"/><path d="M652.6 356 V486" stroke="#fff" stroke-opacity=".35" stroke-width="0.8"/><path d="M725.2 356 V486" stroke="#fff" stroke-opacity=".35" stroke-width="0.8"/><path d="M797.6 356 V486" stroke="#fff" stroke-opacity=".35" stroke-width="0.8"/><path d="M870.2 356 V486" stroke="#fff" stroke-opacity=".35" stroke-width="0.8"/><path d="M507.4 466.1 C509.5 466.2 515.1 467.4 520.3 466.6 C525.5 465.8 532.6 460.9 538.7 461.5 C544.8 462.1 550.2 475.7 557.1 470.0 C564.0 464.3 572.8 428.8 580.1 427.5 C587.4 426.2 595.2 457.0 600.8 462.0 C606.3 467.0 608.3 455.3 613.4 457.6 C618.5 459.9 624.1 484.2 631.2 476.0 C638.3 467.8 649.4 418.4 656.0 408.6 C662.6 398.8 665.7 418.8 671.0 417.2 C676.3 415.6 681.7 396.7 687.7 399.0 C693.7 401.3 700.9 430.1 707.0 431.0 C713.1 431.9 718.1 401.9 724.6 404.7 C731.1 407.5 738.9 445.1 745.7 447.9 C752.5 450.7 759.9 424.6 765.4 421.5 C770.9 418.4 773.4 428.1 778.6 429.2 C783.8 430.3 786.4 421.8 796.6 428.0 C806.8 434.2 827.0 472.4 839.8 466.4 C852.6 460.4 863.0 408.5 873.4 392.0 C883.8 375.5 893.1 365.8 902.2 367.3 C911.3 368.8 920.9 400.4 928.1 400.9 C935.3 401.4 942.5 375.5 945.4 370.4" fill="none" stroke="#f5bf80" stroke-width="0.9"/><path d="M507.6 485.7 C509.3 485.2 512.4 486.1 518.0 483.0 C523.6 479.9 534.1 470.4 541.0 467.3 C547.9 464.2 552.9 466.2 559.4 464.5 C565.9 462.8 574.4 458.4 580.1 457.0 C585.9 455.6 588.1 457.0 593.9 455.8 C599.6 454.6 608.3 450.3 614.6 450.0 C620.9 449.7 624.9 455.1 631.8 454.2 C638.7 453.2 650.4 446.1 656.0 444.3 C661.6 442.5 660.2 442.8 665.2 443.1 C670.2 443.4 679.0 446.1 685.9 446.1 C692.8 446.1 699.4 445.1 706.6 443.1 C713.9 441.1 723.2 436.3 729.4 434.0 C735.6 431.7 738.4 430.0 743.8 429.2 C749.2 428.4 756.2 430.4 761.8 429.2 C767.4 428.0 771.1 425.3 777.4 422.0 C783.7 418.7 793.1 410.8 799.5 409.5 C805.9 408.2 810.3 413.7 815.8 414.3 C821.3 414.9 826.6 413.4 832.6 412.9 C838.6 412.4 845.8 413.9 851.8 411.2 C857.8 408.5 863.4 400.4 868.6 396.8 C873.8 393.2 876.6 391.8 883.0 389.6 C889.4 387.4 899.8 384.9 907.0 383.6 C914.2 382.3 919.8 381.7 926.2 381.9 C932.6 382.1 942.2 384.3 945.4 384.8" fill="none" stroke="#8a74c0" stroke-width="1.1"/><circle cx="799.5" cy="409.6" r="3.6" fill="#111" stroke="#fff" stroke-width="1.5"/></svg>
<svg class="a tx" width="1" height="1"><text x="497.20" y="360.30" font-size="7.8" fill="#666" text-anchor="end">1000</text></svg>
<svg class="a tx" width="1" height="1"><text x="497.20" y="381.80" font-size="7.8" fill="#666" text-anchor="end">750</text></svg>
<svg class="a tx" width="1" height="1"><text x="497.20" y="402.80" font-size="7.8" fill="#666" text-anchor="end">500</text></svg>
<svg class="a tx" width="1" height="1"><text x="497.20" y="423.80" font-size="7.8" fill="#666" text-anchor="end">500</text></svg>
<svg class="a tx" width="1" height="1"><text x="497.20" y="444.80" font-size="7.8" fill="#666" text-anchor="end">500</text></svg>
<svg class="a tx" width="1" height="1"><text x="497.20" y="465.80" font-size="7.8" fill="#666" text-anchor="end">250</text></svg>
<svg class="a tx" width="1" height="1"><text x="497.20" y="487.80" font-size="7.8" fill="#666" text-anchor="end">0</text></svg>
<svg class="a tx" width="1" height="1"><text x="509.00" y="503.80" font-size="7.8" fill="#666" text-anchor="middle">0</text></svg>
<svg class="a tx" width="1" height="1"><text x="585.00" y="503.80" font-size="7.8" fill="#666" text-anchor="middle">100</text></svg>
<svg class="a tx" width="1" height="1"><text x="660.00" y="503.80" font-size="7.8" fill="#666" text-anchor="middle">600</text></svg>
<svg class="a tx" width="1" height="1"><text x="732.50" y="503.80" font-size="7.8" fill="#666" text-anchor="middle">700</text></svg>
<svg class="a tx" width="1" height="1"><text x="805.00" y="503.80" font-size="7.8" fill="#666" text-anchor="middle">800</text></svg>
<svg class="a tx" width="1" height="1"><text x="879.00" y="503.80" font-size="7.8" fill="#666" text-anchor="middle">900</text></svg>
<div class="a" style="left:733.7px;top:366.8px;width:129.6px;height:34.8px;border-radius:5px;background:#fff;box-shadow:0 2px 8px rgba(60,70,110,.12)"></div>
<svg class="a" style="left:0;top:0" width="1000" height="714"><circle cx="750.5" cy="383.6" r="9" fill="#f1f3f6"/><path d="M746.3 382 H748.2 V387.6 H746.3Z M749 382 L751.2 378.4 Q752.5 378.3 752.4 379.8 L752 381.6 H754.6 Q755.6 381.8 755.3 383 L754.4 386.6 Q754.1 387.6 753.2 387.6 H749Z" fill="#22a07e"/></svg>
<svg class="a tx" width="1" height="1"><text x="765.90" y="380.60" font-size="7.7" fill="#2a2a2a" font-weight="700">$3,293.01 Income</text></svg>
<svg class="a tx" width="1" height="1"><text x="765.90" y="392.80" font-size="7.3" fill="#9a9a9a"><tspan fill="#27b07f">+12%</tspan> from last month</text></svg>
<div class="a" style="left:470px;top:548px;width:241px;height:141px;border-radius:11px;overflow:hidden;background:radial-gradient(ellipse 160px 115px at 112px 0px,#8a58a8 0%,#7757a8 45%,#6056aa 80%,#5a56aa 100%)"><div class="a" style="left:0;top:0;width:241px;height:141px;background:repeating-radial-gradient(circle at 105px -10px,rgba(255,255,255,0) 0px,rgba(255,255,255,0) 2px,rgba(255,255,255,.035) 2.5px,rgba(255,255,255,0) 3px)"></div></div>
<div class="a" style="left:480.1px;top:597.7px;width:221.8px;height:36.9px;border-radius:8px;background:rgba(255,255,255,.19)"></div>
<div class="a" style="left:480.1px;top:640.6px;width:221.8px;height:36.6px;border-radius:8px;background:rgba(255,255,255,.19)"></div>
<div class="a" style="left:483.3px;top:559.6px;width:26.5px;height:26.5px;border-radius:50%;background:#f7f7fa;overflow:hidden"><svg width="27" height="27" viewBox="0 0 27 27"><path d="M6 27 Q7 21 13.5 20.5 Q20 21 21 27Z" fill="#8b2e3c"/><rect x="11.6" y="16.5" width="3.8" height="4.5" fill="#e5b07a"/><ellipse cx="13.5" cy="13" rx="4.6" ry="5.4" fill="#f3c48e"/><path d="M8.5 12 Q7.5 5.2 13.5 5.4 Q19.5 5 18.6 12 Q17.5 8.6 13.5 9 Q9.5 8.8 8.5 12Z" fill="#2b2522"/><path d="M9 7 Q10 4.5 12.5 5 Q14 3.8 16 5 Q18 4.8 18.2 7.5" fill="#2b2522"/></svg></div>
<svg class="a tx" width="1" height="1"><text x="514.10" y="569.20" font-size="9.9" fill="#ffffff">Jacob Jones</text></svg>
<svg class="a tx" width="1" height="1"><text x="514.10" y="582.00" font-size="8.2" fill="#bba9da">Product Manager</text></svg>
<div class="a" style="left:652.0px;top:560px;width:23px;height:23px;border-radius:50%;background:#fff"></div>
<svg class="a" style="left:0;top:0" width="1000" height="714"><path d="M659.2 566 Q659.2 565 660.2 565 H664.7 L667.8 568.1 V576.6 Q667.8 577.6 666.8 577.6 H660.2 Q659.2 577.6 659.2 576.6Z" fill="#6a55ab"/><path d="M663.5 567.6 V572.8 M661.7 571 L663.5 573.2 L665.3 571" stroke="#fff" stroke-width="1" fill="none"/></svg>
<div class="a" style="left:679.0px;top:560px;width:23px;height:23px;border-radius:50%;background:#fff"></div>
<svg class="a" style="left:0;top:0" width="1000" height="714"><path d="M686.2 566 Q686.2 565 687.2 565 H691.7 L694.8 568.1 V576.6 Q694.8 577.6 693.8 577.6 H687.2 Q686.2 577.6 686.2 576.6Z" fill="#6a55ab"/><path d="M690.5 573.5 V568.4 M688.7 570.4 L690.5 568.2 L692.3 570.4" stroke="#fff" stroke-width="1" fill="none"/></svg>
<svg class="a" style="left:0;top:0" width="1000" height="714"><circle cx="494.1" cy="612.3" r="3" fill="#fff"/><rect x="488.8" y="617" width="10.6" height="4.8" rx="2.4" fill="#fff"/><path d="M489 652.8 Q489 651.5 490.3 651.5 H495.8 L500 655.7 V662.9 Q500 664.2 498.7 664.2 H490.3 Q489 664.2 489 662.9Z" fill="#fff"/><path d="M491.5 657.8 H495.5 M491.5 660.2 H497.4" stroke="#7a66b4" stroke-width=".9"/></svg>
<svg class="a tx" width="1" height="1"><text x="511.70" y="614.10" font-size="8.8" fill="#f3eefa">Customer Profile</text></svg>
<svg class="a tx" width="1" height="1"><text x="511.70" y="627.00" font-size="7.0" fill="rgba(255,255,255,.42)">Lorem Ipsum is simply dummy text of the printing</text></svg>
<svg class="a tx" width="1" height="1"><text x="511.70" y="657.00" font-size="8.8" fill="#f3eefa">Some title</text></svg>
<svg class="a tx" width="1" height="1"><text x="511.70" y="670.10" font-size="7.0" fill="rgba(255,255,255,.42)">Lorem Ipsum is simply dummy text of the printing</text></svg>
<div class="card" style="left:724px;top:549.6px;width:183px;height:142.8px;border-radius:11px"></div>
<svg class="a" style="left:735.6px;top:561.5px" width="12" height="12" viewBox="0 0 12 12"><g fill="none" stroke="#ea3a59" stroke-width="1.2" stroke-linejoin="round" stroke-linecap="round"><path d="M4.2 0.8 H9.4 L8.2 2.8 H5.4Z"/><path d="M8.2 2.8 C10.2 4 11.2 6.5 10.8 8.8 Q10.6 10.5 9 10.5 H7.4"/><path d="M5.4 2.8 L4.3 4.8"/><rect x="0.9" y="5.6" width="4.4" height="4.9" rx="1.1"/><path d="M0.9 8 H5.3"/></g></svg>
<svg class="a tx" width="1" height="1"><text x="752.00" y="571.40" font-size="10" fill="#303030">Sales</text></svg>
<div class="a" style="left:877.5px;top:558.4px;width:17.9px;height:17.9px;border-radius:5px;background:#fff;box-shadow:0 0 0 0.7px #eceef2,0 1px 3px rgba(0,0,0,.05)"></div>
<svg class="a" style="left:0;top:0" width="1000" height="714"><circle cx="882.6" cy="567.4" r=".9" fill="#444"/><circle cx="886.4" cy="567.4" r=".9" fill="#444"/><circle cx="890.2" cy="567.4" r=".9" fill="#444"/></svg>
<svg class="a tx" width="1" height="1"><text x="736.30" y="599.30" font-size="15.6" fill="#1a1a1a" stroke="#1a1a1a" stroke-width="0.1">$4,910.90</text></svg>
<svg class="a tx" width="1" height="1"><text x="809.50" y="599.30" font-size="6.5" fill="#c6c6c6">.500</text></svg>
<svg class="a tx" width="1" height="1"><text x="735.60" y="615.20" font-size="6.3" fill="#e8385a" stroke="#e8385a" stroke-width="0.2">90.231</text></svg>
<svg class="a tx" width="1" height="1"><text x="762.00" y="615.20" font-size="6.65" fill="#bbbbbb">Total spand</text></svg>
<svg class="a tx" width="1" height="1"><text x="894.20" y="634.60" font-size="5.9" fill="#adadad" text-anchor="end">$200</text></svg>
<svg class="a tx" width="1" height="1"><text x="894.20" y="650.90" font-size="5.9" fill="#adadad" text-anchor="end">$100</text></svg>
<svg class="a tx" width="1" height="1"><text x="894.20" y="666.60" font-size="5.9" fill="#adadad" text-anchor="end">0</text></svg>
<svg class="a tx" width="1" height="1"><text x="752.60" y="682.30" font-size="6.4" fill="#9a9a9a" text-anchor="middle">Q1</text></svg>
<svg class="a tx" width="1" height="1"><text x="788.20" y="682.30" font-size="6.4" fill="#9a9a9a" text-anchor="middle">Q2</text></svg>
<svg class="a tx" width="1" height="1"><text x="824.00" y="682.30" font-size="6.4" fill="#9a9a9a" text-anchor="middle">Q3</text></svg>
<svg class="a tx" width="1" height="1"><text x="860.00" y="682.30" font-size="6.4" fill="#9a9a9a" text-anchor="middle">Q4</text></svg>
<svg class="a" style="left:0;top:0" width="1000" height="714" viewBox="0 0 1000 714"><path d="M734 669.5 H894" stroke="#f0f0f0" stroke-width=".8"/><path d="M734 669.4 L880.7 630.7" stroke="#dcdcdc" stroke-width=".8" stroke-dasharray="2 2"/><circle cx="736.3" cy="663.9" r="2.1" fill="#ec2d4f"/><circle cx="741.9" cy="658.3" r="2.1" fill="#ec2d4f"/><circle cx="747.0" cy="658.3" r="2.1" fill="#ec2d4f"/><circle cx="747.0" cy="663.9" r="2.1" fill="#ec2d4f"/><circle cx="750.8" cy="653.8" r="2.1" fill="#ec2d4f"/><circle cx="761.6" cy="655.8" r="2.1" fill="#ec2d4f"/><circle cx="771.7" cy="647.5" r="2.1" fill="#ec2d4f"/><circle cx="771.7" cy="656.0" r="2.1" fill="#ec2d4f"/><circle cx="774.4" cy="638.5" r="2.1" fill="#ec2d4f"/><circle cx="781.5" cy="644.4" r="2.1" fill="#ec2d4f"/><circle cx="787.8" cy="657.6" r="2.1" fill="#ec2d4f"/><circle cx="790.0" cy="651.1" r="2.1" fill="#ec2d4f"/><circle cx="795.2" cy="658.3" r="2.1" fill="#ec2d4f"/><circle cx="798.3" cy="636.5" r="2.1" fill="#ec2d4f"/><circle cx="799.0" cy="651.1" r="2.1" fill="#ec2d4f"/><circle cx="803.5" cy="658.3" r="2.1" fill="#ec2d4f"/><circle cx="810.2" cy="647.5" r="2.1" fill="#ec2d4f"/><circle cx="823.2" cy="635.9" r="2.1" fill="#ec2d4f"/><circle cx="823.2" cy="653.8" r="2.1" fill="#ec2d4f"/><circle cx="827.0" cy="645.3" r="2.1" fill="#ec2d4f"/><circle cx="837.1" cy="651.5" r="2.1" fill="#ec2d4f"/><circle cx="843.3" cy="636.5" r="2.1" fill="#ec2d4f"/><circle cx="847.8" cy="640.1" r="2.1" fill="#ec2d4f"/><circle cx="857.7" cy="632.5" r="2.1" fill="#ec2d4f"/><circle cx="857.7" cy="642.4" r="2.1" fill="#ec2d4f"/><circle cx="866.4" cy="640.1" r="2.1" fill="#ec2d4f"/></svg>
</body></html>
